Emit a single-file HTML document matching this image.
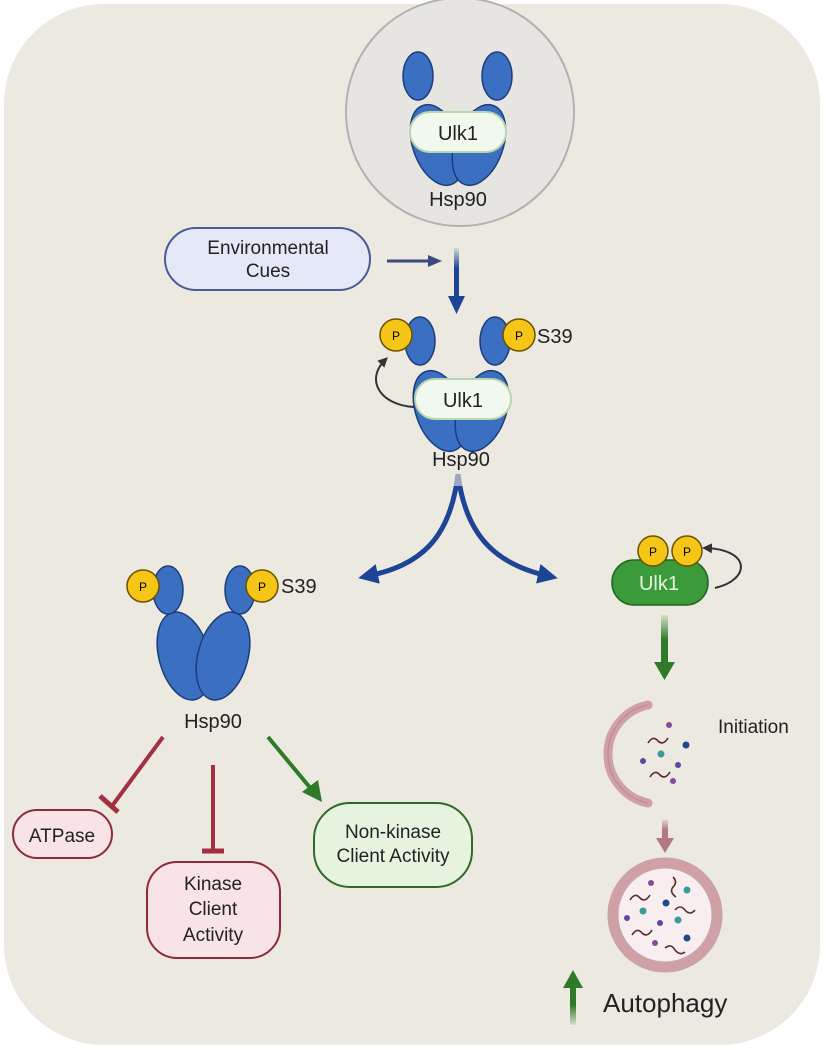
<!DOCTYPE html>
<html><head><meta charset="utf-8"><style>
html,body{margin:0;padding:0;background:#fff;}
svg{display:block;font-family:"Liberation Sans",sans-serif;}
</style></head><body>
<svg width="826" height="1050" viewBox="0 0 826 1050" xmlns="http://www.w3.org/2000/svg">
<defs>
<marker id="ab" markerWidth="4" markerHeight="4" refX="2" refY="2" orient="auto" markerUnits="strokeWidth"><path d="M0,0 L4,2 L0,4 z" fill="#1e4496"/></marker>
<marker id="ak" markerWidth="5" markerHeight="5" refX="3" refY="2.5" orient="auto" markerUnits="strokeWidth"><path d="M0,0 L5,2.5 L0,5 z" fill="#333"/></marker>
<linearGradient id="gv" x1="0" y1="0" x2="0" y2="1"><stop offset="0" stop-color="#1e4496" stop-opacity="0.1"/><stop offset="0.4" stop-color="#1e4496"/></linearGradient>
<linearGradient id="gg" x1="0" y1="0" x2="0" y2="1"><stop offset="0" stop-color="#2f7a2a" stop-opacity="0.1"/><stop offset="0.5" stop-color="#2f7a2a"/></linearGradient>
<linearGradient id="gu" x1="0" y1="1" x2="0" y2="0"><stop offset="0" stop-color="#2f7a2a" stop-opacity="0.1"/><stop offset="0.5" stop-color="#2f7a2a"/></linearGradient>
<linearGradient id="gp" x1="0" y1="0" x2="0" y2="1"><stop offset="0" stop-color="#b07a80" stop-opacity="0.2"/><stop offset="0.5" stop-color="#b07a80"/></linearGradient>
<g id="lobe"><ellipse rx="15" ry="24" fill="#3a6fc2" stroke="#1d3d7a" stroke-width="1.5"/></g>
</defs>
<rect x="4" y="4" width="816" height="1041" rx="100" fill="#ece9e0"/>

<!-- top complex -->
<circle cx="460" cy="112" r="114" fill="#e6e5e1" stroke="#b3b1ad" stroke-width="2"/>
<ellipse cx="437" cy="145" rx="24" ry="42" transform="rotate(-20 437 145)" fill="#3a6fc2" stroke="#1d3d7a" stroke-width="1.5"/>
<ellipse cx="479" cy="145" rx="24" ry="42" transform="rotate(20 479 145)" fill="#3a6fc2" stroke="#1d3d7a" stroke-width="1.5"/>
<use href="#lobe" x="418" y="76"/><use href="#lobe" x="497" y="76"/>
<rect x="410" y="112" width="96" height="40" rx="20" fill="#f1f8ee" stroke="#b9d6ae" stroke-width="2"/>
<text x="458" y="140" font-size="20" text-anchor="middle" fill="#222">Ulk1</text>
<text x="458" y="206" font-size="20" text-anchor="middle" fill="#222">Hsp90</text>

<!-- env cues -->
<rect x="165" y="228" width="205" height="62" rx="31" fill="#e5e9f7" stroke="#4a5a9a" stroke-width="2"/>
<text x="268" y="254" font-size="19" text-anchor="middle" fill="#222">Environmental</text>
<text x="268" y="277" font-size="19" text-anchor="middle" fill="#222">Cues</text>
<line x1="387" y1="261" x2="430" y2="261" stroke="#3a4a80" stroke-width="3"/>
<path d="M428,255 L442,261 L428,267z" fill="#3a4a80"/>
<rect x="454" y="248" width="5" height="50" fill="url(#gv)"/>
<path d="M448,296 L465,296 L456.5,314z" fill="#1e4496"/>

<!-- second complex -->
<ellipse cx="440" cy="411" rx="24" ry="42" transform="rotate(-20 440 411)" fill="#3a6fc2" stroke="#1d3d7a" stroke-width="1.5"/>
<ellipse cx="482" cy="411" rx="24" ry="42" transform="rotate(20 482 411)" fill="#3a6fc2" stroke="#1d3d7a" stroke-width="1.5"/>
<use href="#lobe" x="420" y="341"/><use href="#lobe" x="495" y="341"/>
<circle cx="396" cy="335" r="16" fill="#f5c518" stroke="#6b5200" stroke-width="1.5"/><text x="396" y="340" font-size="12" text-anchor="middle">P</text>
<circle cx="519" cy="335" r="16" fill="#f5c518" stroke="#6b5200" stroke-width="1.5"/><text x="519" y="340" font-size="12" text-anchor="middle">P</text>
<text x="537" y="343" font-size="20" fill="#222">S39</text>
<rect x="415" y="379" width="96" height="40" rx="20" fill="#f1f8ee" stroke="#b9d6ae" stroke-width="2"/>
<text x="463" y="407" font-size="20" text-anchor="middle" fill="#222">Ulk1</text>
<text x="461" y="466" font-size="20" text-anchor="middle" fill="#222">Hsp90</text>
<path d="M414,407 C380,405 365,380 385,360" fill="none" stroke="#333" stroke-width="2" marker-end="url(#ak)"/>

<!-- split arrows -->
<path d="M458,474 C450,540 420,565 368,576" fill="none" stroke="#1e4496" stroke-width="5" marker-end="url(#ab)"/>
<path d="M458,474 C466,540 500,565 548,576" fill="none" stroke="#1e4496" stroke-width="5" marker-end="url(#ab)"/>
<rect x="450" y="470" width="16" height="16" fill="#ece9e0" opacity="0.6"/>

<!-- left Hsp90 -->
<ellipse cx="184" cy="656" rx="25" ry="45" transform="rotate(-15 184 656)" fill="#3a6fc2" stroke="#1d3d7a" stroke-width="1.5"/>
<ellipse cx="223" cy="656" rx="25" ry="45" transform="rotate(15 223 656)" fill="#3a6fc2" stroke="#1d3d7a" stroke-width="1.5"/>
<use href="#lobe" x="168" y="590"/><use href="#lobe" x="240" y="590"/>
<circle cx="143" cy="586" r="16" fill="#f5c518" stroke="#6b5200" stroke-width="1.5"/><text x="143" y="591" font-size="12" text-anchor="middle">P</text>
<circle cx="262" cy="586" r="16" fill="#f5c518" stroke="#6b5200" stroke-width="1.5"/><text x="262" y="591" font-size="12" text-anchor="middle">P</text>
<text x="281" y="593" font-size="20" fill="#222">S39</text>
<text x="213" y="728" font-size="20" text-anchor="middle" fill="#222">Hsp90</text>

<line x1="163" y1="737" x2="112" y2="806" stroke="#a33040" stroke-width="4"/>
<line x1="100" y1="796" x2="118" y2="812" stroke="#a33040" stroke-width="5"/>
<line x1="213" y1="765" x2="213" y2="850" stroke="#a33040" stroke-width="4"/>
<line x1="202" y1="851" x2="224" y2="851" stroke="#a33040" stroke-width="5"/>
<line x1="268" y1="737" x2="312" y2="790" stroke="#2f7a2a" stroke-width="4"/>
<path d="M302,792 L322,802 L318,780z" fill="#2f7a2a"/>

<rect x="13" y="810" width="99" height="48" rx="24" fill="#f8e3e6" stroke="#8e2a3a" stroke-width="2"/>
<text x="62" y="842" font-size="19" text-anchor="middle" fill="#222">ATPase</text>
<rect x="147" y="862" width="133" height="96" rx="30" fill="#f8e3e6" stroke="#8e2a3a" stroke-width="2"/>
<text x="213" y="890" font-size="19" text-anchor="middle" fill="#222">Kinase</text>
<text x="213" y="915" font-size="19" text-anchor="middle" fill="#222">Client</text>
<text x="213" y="941" font-size="19" text-anchor="middle" fill="#222">Activity</text>
<rect x="314" y="803" width="158" height="84" rx="36" fill="#e6f4df" stroke="#2f6a2a" stroke-width="2"/>
<text x="393" y="838" font-size="19" text-anchor="middle" fill="#222">Non-kinase</text>
<text x="393" y="862" font-size="19" text-anchor="middle" fill="#222">Client Activity</text>

<!-- right: Ulk1 -->
<rect x="612" y="560" width="96" height="45" rx="22" fill="#3b9a3a" stroke="#226622" stroke-width="1.5"/>
<circle cx="653" cy="551" r="15" fill="#f5c518" stroke="#6b5200" stroke-width="1.5"/><text x="653" y="556" font-size="12" text-anchor="middle">P</text>
<circle cx="687" cy="551" r="15" fill="#f5c518" stroke="#6b5200" stroke-width="1.5"/><text x="687" y="556" font-size="12" text-anchor="middle">P</text>
<text x="659" y="590" font-size="20" text-anchor="middle" fill="#e8f5e0">Ulk1</text>
<path d="M715,588 C750,580 752,550 706,548" fill="none" stroke="#333" stroke-width="2" marker-end="url(#ak)"/>
<rect x="661" y="615" width="7" height="50" fill="url(#gg)"/>
<path d="M654,662 L675,662 L664.5,680z" fill="#2f7a2a"/>

<!-- phagophore -->
<path d="M648,705 A50,50 0 0 0 648,803" fill="none" stroke="#cfa0a6" stroke-width="9" stroke-linecap="round"/>
<path d="M648,705 A50,50 0 0 0 648,803" fill="none" stroke="#a7707a" stroke-width="1" opacity="0.5"/>
<circle cx="669" cy="725" r="3" fill="#8a4a9a"/><circle cx="686" cy="745" r="3.5" fill="#1e4a8a"/>
<circle cx="661" cy="754" r="3.5" fill="#3a9a9a"/><circle cx="643" cy="761" r="3" fill="#5a4aa0"/>
<circle cx="678" cy="765" r="3" fill="#5a4aa0"/><circle cx="673" cy="781" r="3" fill="#8a4a9a"/>
<path d="M648,743 q5,-8 10,-2 q5,5 10,-3" fill="none" stroke="#5a2a2a" stroke-width="1.6"/>
<path d="M650,777 q5,-8 10,-2 q5,5 10,-3" fill="none" stroke="#5a2a2a" stroke-width="1.6"/>
<text x="718" y="733" font-size="19" fill="#222">Initiation</text>
<rect x="662" y="820" width="6" height="20" fill="url(#gp)"/>
<path d="M656,838 L674,838 L665,853z" fill="#b07a80"/>

<!-- autophagosome -->
<circle cx="665" cy="915" r="52" fill="#f8eef0" stroke="#cfa0a6" stroke-width="9"/>
<circle cx="665" cy="915" r="57" fill="none" stroke="#a7707a" stroke-width="1" opacity="0.6"/>
<circle cx="665" cy="915" r="47" fill="none" stroke="#a7707a" stroke-width="1" opacity="0.6"/>
<circle cx="651" cy="883" r="3" fill="#8a4a9a"/><circle cx="687" cy="890" r="3.5" fill="#3a9a9a"/>
<circle cx="666" cy="903" r="3.5" fill="#1e4a8a"/><circle cx="643" cy="911" r="3.5" fill="#3a9a9a"/>
<circle cx="627" cy="918" r="3" fill="#5a4aa0"/><circle cx="660" cy="923" r="3" fill="#5a4aa0"/>
<circle cx="678" cy="920" r="3.5" fill="#3a9a9a"/><circle cx="687" cy="938" r="3.5" fill="#1e4a8a"/>
<circle cx="655" cy="943" r="3" fill="#8a4a9a"/>
<path d="M630,900 q5,-8 10,-2 q5,5 10,-3" fill="none" stroke="#5a2a2a" stroke-width="1.6"/>
<path d="M673,877 q5,5 0,10 q-4,5 3,10" fill="none" stroke="#5a2a2a" stroke-width="1.6"/>
<path d="M675,910 q5,-6 10,0 q5,6 10,0" fill="none" stroke="#5a2a2a" stroke-width="1.6"/>
<path d="M632,935 q5,-8 10,-2 q5,5 10,-3" fill="none" stroke="#5a2a2a" stroke-width="1.6"/>
<path d="M665,948 q6,-5 10,2 q5,6 10,2" fill="none" stroke="#5a2a2a" stroke-width="1.6"/>

<text x="603" y="1012" font-size="26" fill="#222">Autophagy</text>
<rect x="570" y="985" width="6" height="40" fill="url(#gu)"/>
<path d="M563,988 L583,988 L573,970z" fill="#2f7a2a"/>
</svg>
</body></html>
